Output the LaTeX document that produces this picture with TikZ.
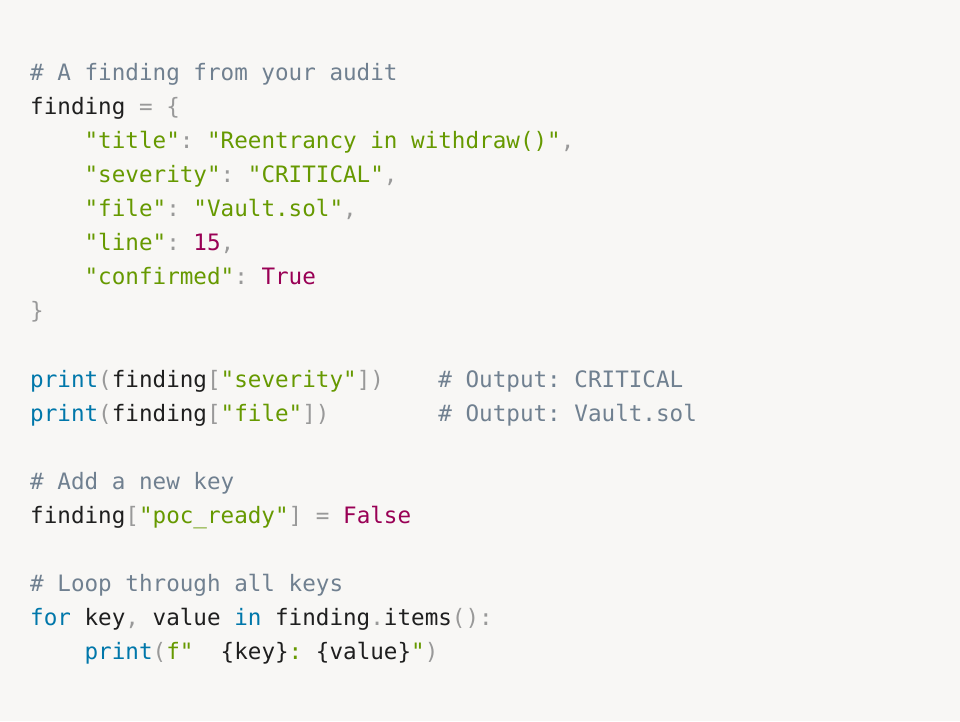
\documentclass[tikz,border=0pt]{standalone}
\usepackage{fontspec}
\setmonofont{DejaVu Sans Mono}
\definecolor{bg}{HTML}{F8F7F5}
\definecolor{cmt}{HTML}{708090}
\definecolor{str}{HTML}{669900}
\definecolor{num}{HTML}{990055}
\definecolor{kw}{HTML}{0077AA}
\definecolor{pun}{HTML}{999999}
\definecolor{txt}{HTML}{1F1F1F}
\newcommand{\Cm}[1]{\textcolor{cmt}{#1}}
\newcommand{\St}[1]{\textcolor{str}{#1}}
\newcommand{\Nm}[1]{\textcolor{num}{#1}}
\newcommand{\Kw}[1]{\textcolor{kw}{#1}}
\newcommand{\Pn}[1]{\textcolor{pun}{#1}}
\tikzset{codeline/.style={anchor=base west,inner sep=0pt,font=\ttfamily\fontsize{22.6}{27}\selectfont,text=txt}}
\begin{document}
\begin{tikzpicture}[x=1pt,y=1pt]
\fill[bg] (0,0) rectangle (960,721);
\useasboundingbox (0,0) rectangle (960,721);
\def\bx{30}
\newcommand{\Ly}[1]{721-73-8-34*#1}
\node[codeline] (l0) at (\bx,{\Ly{0}}) {\Cm{\# A finding from your audit}};
\node[codeline] (l1) at (\bx,{\Ly{1}}) {finding \Pn{=} \Pn{\{}};
\node[codeline] (l2) at (\bx,{\Ly{2}}) {\ \ \ \ \St{"title"}\Pn{:} \St{"Reentrancy in withdraw()"}\Pn{,}};
\node[codeline] (l3) at (\bx,{\Ly{3}}) {\ \ \ \ \St{"severity"}\Pn{:} \St{"CRITICAL"}\Pn{,}};
\node[codeline] (l4) at (\bx,{\Ly{4}}) {\ \ \ \ \St{"file"}\Pn{:} \St{"Vault.sol"}\Pn{,}};
\node[codeline] (l5) at (\bx,{\Ly{5}}) {\ \ \ \ \St{"line"}\Pn{:} \Nm{15}\Pn{,}};
\node[codeline] (l6) at (\bx,{\Ly{6}}) {\ \ \ \ \St{"confirmed"}\Pn{:} \Nm{True}};
\node[codeline] (l7) at (\bx,{\Ly{7}}) {\Pn{\}}};
\node[codeline] (l9) at (\bx,{\Ly{9}}) {\Kw{print}\Pn{(}finding\Pn{[}\St{"severity"}\Pn{])}\ \ \ \ \Cm{\# Output: CRITICAL}};
\node[codeline] (l10) at (\bx,{\Ly{10}}) {\Kw{print}\Pn{(}finding\Pn{[}\St{"file"}\Pn{])}\ \ \ \ \ \ \ \ \Cm{\# Output: Vault.sol}};
\node[codeline] (l12) at (\bx,{\Ly{12}}) {\Cm{\# Add a new key}};
\node[codeline] (l13) at (\bx,{\Ly{13}}) {finding\Pn{[}\St{"poc\_ready"}\Pn{]} \Pn{=} \Nm{False}};
\node[codeline] (l15) at (\bx,{\Ly{15}}) {\Cm{\# Loop through all keys}};
\node[codeline] (l16) at (\bx,{\Ly{16}}) {\Kw{for} key\Pn{,} value \Kw{in} finding\Pn{.}items\Pn{():}};
\node[codeline] (l17) at (\bx,{\Ly{17}}) {\ \ \ \ \Kw{print}\Pn{(}\St{f"\ \ }\{key\}\St{: }\{value\}\St{"}\Pn{)}};
\end{tikzpicture}
\end{document}
